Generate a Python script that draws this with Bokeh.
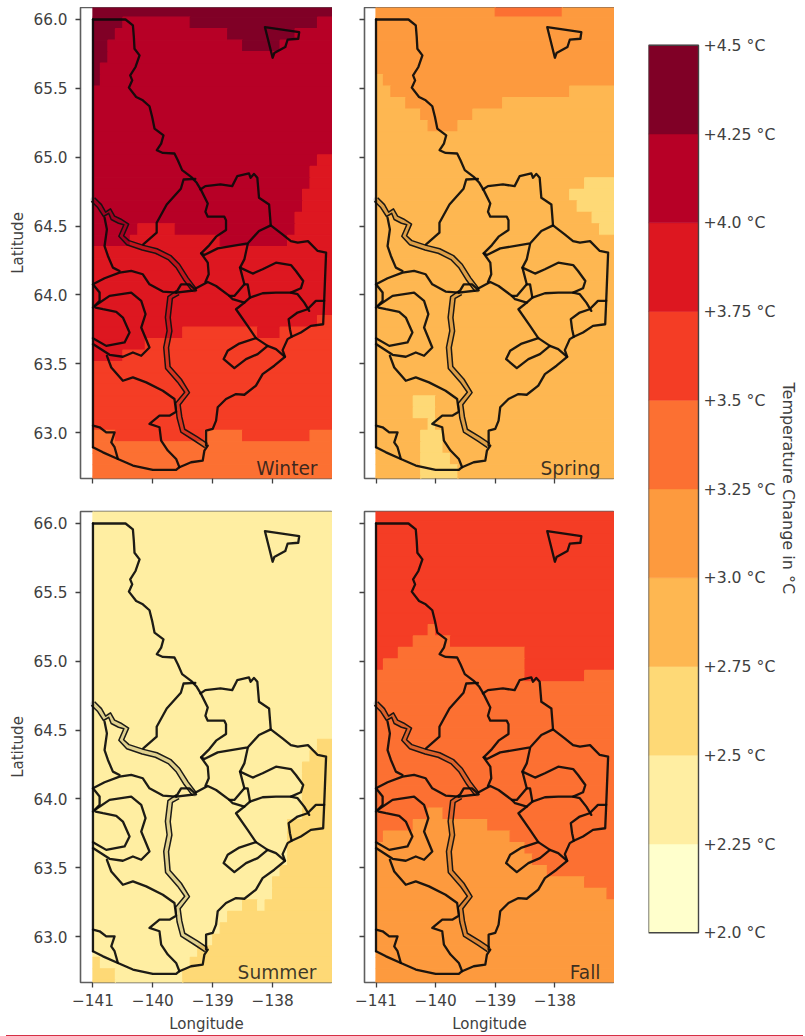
import math
from bokeh.core.properties import value
from bokeh.embed import file_html
from bokeh.layouts import column, row
from bokeh.models import ColumnDataSource, Div, FixedTicker, Label, LinearColorMapper, Range1d
from bokeh.plotting import figure
from bokeh.resources import INLINE

# ---- colour classes -------------------------------------------------------
BIN_EDGES = [2.0, 2.25, 2.5, 2.75, 3.0, 3.25, 3.5, 3.75, 4.0, 4.25, 4.5]
BIN_TEMPS = [2.125, 2.375, 2.625, 2.875, 3.125, 3.375, 3.625, 3.875, 4.125, 4.375]
PALETTE = ["#ffffcc", "#ffeea2", "#fed976", "#feb751", "#fd9a3e",
           "#fc7032", "#f43d25", "#dd1720", "#b70026", "#800026"]
BAR_TICKS = [2.0, 2.25, 2.5, 2.75, 3.0, 3.25, 3.5, 3.75, 4.0, 4.25, 4.5]
BAR_LABELS = ["+2.0 °C", "+2.25 °C", "+2.5 °C", "+2.75 °C", "+3.0 °C", "+3.25 °C",
              "+3.5 °C", "+3.75 °C", "+4.0 °C", "+4.25 °C", "+4.5 °C"]
BAR_TITLE = "Temperature Change in °C"
LON_TICKS = [-141, -140, -139, -138]
LON_LABELS = ["−141", "−140", "−139", "−138"]
LAT_TICKS = [63.0, 63.5, 64.0, 64.5, 65.0, 65.5, 66.0]
LAT_LABELS = ["63.0", "63.5", "64.0", "64.5", "65.0", "65.5", "66.0"]

# ---- gridded temperature change, north to south: each row is (class, cells) runs
GRID_WEST = -141.0
GRID_NORTH = 66.1
CELL_LON = 0.125
CELL_LAT = 1 / 12

WINTER = [
    [(9, 32)],
    [(9, 4), (8, 9), (9, 17), (8, 2)],
    [(9, 3), (8, 15), (9, 9), (8, 5)],
    [(9, 2), (8, 18), (9, 5), (8, 7)],
    [(9, 2), (8, 30)],
    [(9, 1), (8, 31)],
    [(9, 1), (8, 31)],
    [(8, 32)], [(8, 32)], [(8, 32)], [(8, 32)], [(8, 32)], [(8, 32)],
    [(8, 30), (7, 2)],
    [(8, 29), (7, 3)],
    [(8, 29), (7, 3)],
    [(8, 28), (7, 4)],
    [(8, 28), (7, 4)],
    [(8, 27), (7, 5)],
    [(8, 6), (7, 5), (8, 16), (7, 5)],
    [(8, 5), (7, 12), (8, 9), (7, 6)],
    [(7, 32)], [(7, 32)], [(7, 32)], [(7, 32)], [(7, 32)], [(7, 32)],
    [(7, 30), (6, 2)],
    [(7, 12), (6, 10), (7, 3), (6, 7)],
    [(7, 7), (6, 25)],
    [(7, 4), (6, 28)],
    [(6, 32)], [(6, 32)], [(6, 32)], [(6, 32)], [(6, 32)], [(6, 32)],
    [(5, 3), (6, 12), (5, 5), (6, 9), (5, 3)],
    [(5, 32)], [(5, 32)], [(5, 32)], [(5, 32)],
]

SPRING = [
    [(4, 16), (5, 9), (4, 7)],
    [(4, 32)], [(4, 32)], [(4, 32)], [(4, 32)], [(4, 32)],
    [(3, 1), (4, 31)],
    [(3, 2), (4, 24), (3, 6)],
    [(3, 4), (4, 13), (3, 15)],
    [(3, 6), (4, 7), (3, 19)],
    [(3, 7), (4, 4), (3, 21)],
    [(3, 32)], [(3, 32)], [(3, 32)], [(3, 32)],
    [(3, 28), (2, 4)],
    [(3, 26), (2, 6)],
    [(3, 27), (2, 5)],
    [(3, 29), (2, 3)],
    [(3, 30), (2, 2)],
    [(3, 32)], [(3, 32)], [(3, 32)], [(3, 32)], [(3, 32)], [(3, 32)], [(3, 32)],
    [(3, 32)], [(3, 32)], [(3, 32)], [(3, 32)], [(3, 32)], [(3, 32)], [(3, 32)],
    [(3, 5), (2, 3), (3, 24)],
    [(3, 5), (2, 3), (3, 24)],
    [(3, 7), (2, 1), (3, 24)],
    [(3, 6), (2, 3), (3, 23)],
    [(3, 6), (2, 3), (3, 23)],
    [(3, 6), (2, 4), (3, 22)],
    [(3, 6), (2, 5), (3, 21)],
    [(3, 6), (2, 5), (3, 21)],
]

SUMMER = [
    [(1, 32)], [(1, 32)], [(1, 32)], [(1, 32)], [(1, 32)], [(1, 32)], [(1, 32)],
    [(1, 32)], [(1, 32)], [(1, 32)], [(1, 32)], [(1, 32)], [(1, 32)], [(1, 32)],
    [(1, 32)], [(1, 32)], [(1, 32)], [(1, 32)], [(1, 32)], [(1, 32)],
    [(1, 30), (2, 2)],
    [(1, 29), (2, 3)],
    [(1, 28), (2, 4)],
    [(1, 28), (2, 4)],
    [(1, 28), (2, 4)],
    [(1, 28), (2, 4)],
    [(1, 28), (2, 4)],
    [(1, 26), (2, 6)],
    [(1, 26), (2, 6)],
    [(1, 26), (2, 6)],
    [(1, 26), (2, 6)],
    [(1, 25), (2, 7)],
    [(1, 24), (2, 8)],
    [(1, 24), (2, 8)],
    [(1, 20), (2, 2), (1, 1), (2, 9)],
    [(1, 18), (2, 14)],
    [(1, 17), (2, 15)],
    [(1, 16), (2, 16)],
    [(1, 14), (2, 18)],
    [(2, 1), (1, 12), (2, 19)],
    [(2, 3), (1, 9), (2, 20)],
    [(2, 3), (1, 9), (2, 20)],
]

FALL = [
    [(6, 32)], [(6, 32)], [(6, 32)], [(6, 32)], [(6, 32)],
    [(6, 32)], [(6, 32)], [(6, 32)], [(6, 32)], [(6, 32)],
    [(6, 7), (5, 1), (6, 24)],
    [(6, 5), (5, 5), (6, 22)],
    [(6, 3), (5, 17), (6, 12)],
    [(6, 1), (5, 19), (6, 12)],
    [(5, 20), (6, 8), (5, 4)],
    [(5, 32)], [(5, 32)], [(5, 32)], [(5, 32)], [(5, 32)], [(5, 32)],
    [(5, 32)], [(5, 32)], [(5, 32)], [(5, 32)], [(5, 32)],
    [(5, 7), (4, 2), (5, 23)],
    [(5, 5), (4, 10), (5, 17)],
    [(5, 1), (4, 17), (5, 14)],
    [(4, 20), (5, 12)],
    [(4, 21), (5, 11)],
    [(4, 23), (5, 9)],
    [(4, 28), (5, 4)],
    [(4, 31), (5, 1)],
    [(4, 32)], [(4, 32)], [(4, 32)], [(4, 32)],
    [(4, 32)], [(4, 32)], [(4, 32)], [(4, 32)],
]

# ---- region boundaries, longitude / latitude ---------------------------------
WEST_BORDER = [(-141.0, 66.0), (-141.0, 62.894)]
NORTH_LINE = [(-141.0, 66.0), (-140.456, 66.0), (-140.333, 65.957), (-140.317, 65.872), (-140.306, 65.787),
              (-140.222, 65.739), (-140.289, 65.655), (-140.378, 65.594), (-140.344, 65.558), (-140.4, 65.505),
              (-140.278, 65.437), (-140.167, 65.413), (-140.056, 65.37), (-140.011, 65.292), (-139.972, 65.208),
              (-139.822, 65.159), (-139.861, 65.099), (-139.933, 65.051), (-139.833, 65.031), (-139.639, 65.027),
              (-139.583, 64.978), (-139.511, 64.906), (-139.361, 64.857), (-139.267, 64.814), (-139.194, 64.761),
              (-139.083, 64.664), (-139.122, 64.604), (-139.083, 64.568), (-138.806, 64.568), (-138.778, 64.543),
              (-138.778, 64.471), (-138.944, 64.423), (-139.056, 64.362), (-139.194, 64.302),
              (-139.083, 64.234), (-139.067, 64.15), (-139.122, 64.094)]
ISLAND = [(-138.128, 65.944), (-137.556, 65.908), (-137.572, 65.86), (-137.75, 65.853), (-137.789, 65.8),
          (-137.972, 65.756), (-138.0, 65.722), (-138.128, 65.944)]
V_EAST = [(-139.194, 64.302), (-139.139, 64.29), (-138.917, 64.338), (-138.417, 64.374), (-138.227, 64.464),
          (-138.031, 64.505), (-137.835, 64.44), (-137.695, 64.391), (-137.58, 64.379), (-137.41, 64.391),
          (-137.247, 64.319), (-137.107, 64.307), (-137.139, 63.957), (-137.156, 63.787), (-137.361, 63.775),
          (-137.528, 63.727), (-137.683, 63.696)]
NORTH_LOBE = [(-138.031, 64.505), (-138.059, 64.657), (-138.227, 64.705), (-138.255, 64.85), (-138.311, 64.879),
              (-138.367, 64.85), (-138.395, 64.882), (-138.591, 64.862), (-138.675, 64.79), (-138.871, 64.802),
              (-139.011, 64.795), (-139.123, 64.79), (-139.207, 64.766)]
WEST_BRANCH = [(-139.291, 64.843), (-139.487, 64.838), (-139.532, 64.771), (-139.768, 64.657), (-139.936, 64.524),
               (-139.936, 64.452), (-140.16, 64.367)]
BASIN_NORTH = [(-139.278, 64.048), (-139.083, 64.094), (-138.944, 64.065), (-138.722, 63.993), (-138.667, 63.969),
               (-138.472, 63.944), (-138.611, 63.896), (-138.417, 63.775), (-138.278, 63.686), (-138.083, 63.63),
               (-137.944, 63.606), (-137.794, 63.551)]
SMALL_BLOCK = [(-139.611, 64.017), (-139.528, 64.077), (-139.389, 64.077), (-139.278, 64.034), (-139.611, 64.017)]
BASIN_LOBE = [(-138.278, 63.686), (-138.556, 63.647), (-138.75, 63.594), (-138.817, 63.534), (-138.639, 63.469),
              (-138.444, 63.534), (-138.25, 63.57), (-138.083, 63.63)]
SOUTH_EAST = [(-139.111, 62.906), (-139.111, 63.014), (-139.0, 63.027), (-138.944, 63.087), (-138.917, 63.184),
              (-138.778, 63.244), (-138.611, 63.28), (-138.472, 63.275), (-138.278, 63.341), (-138.167, 63.425),
              (-137.972, 63.486), (-137.794, 63.551), (-137.833, 63.599), (-137.75, 63.679), (-137.683, 63.696),
              (-137.711, 63.751), (-137.733, 63.824), (-137.583, 63.872), (-137.417, 63.896), (-137.278, 63.957),
              (-137.139, 63.957)]
EAST_SPUR = [(-137.694, 64.017), (-137.583, 64.005), (-137.472, 63.944), (-137.389, 63.884)]
MID_LINE = [(-138.417, 64.367), (-138.472, 64.258), (-138.544, 64.198), (-138.472, 64.077), (-138.639, 63.993),
            (-138.722, 63.993)]
EAST_LOBE = [(-138.544, 64.198), (-138.333, 64.155), (-138.167, 64.186), (-137.944, 64.234), (-137.694, 64.217),
             (-137.611, 64.174), (-137.489, 64.101), (-137.528, 64.048), (-137.694, 64.017), (-137.944, 64.017),
             (-138.167, 64.012), (-138.378, 63.981), (-138.417, 64.077), (-138.472, 64.077)]
EAST_LOBE_TAIL = [(-138.378, 63.981), (-138.472, 63.944)]
WEST_DOWN = [(-140.806, 64.56), (-140.767, 64.476), (-140.806, 64.355), (-140.75, 64.283), (-140.667, 64.198),
             (-140.556, 64.174)]
WEST_LOBE_1 = [(-141.0, 64.077), (-140.806, 64.121), (-140.556, 64.162), (-140.361, 64.174), (-140.167, 64.15),
               (-140.056, 64.077), (-139.833, 64.024), (-139.611, 64.017)]
WEST_STUB = [(-141.0, 64.077), (-140.889, 64.017), (-140.889, 63.957), (-140.972, 63.92), (-141.0, 63.908)]
WEST_LOBE_2 = [(-140.972, 63.92), (-140.722, 63.993), (-140.361, 64.017), (-140.194, 63.957), (-140.122, 63.86),
               (-140.194, 63.763), (-140.056, 63.618), (-140.194, 63.558), (-140.333, 63.582), (-140.5, 63.551),
               (-140.722, 63.565), (-141.0, 63.643)]
WEST_LOBE_3 = [(-140.956, 63.908), (-140.833, 63.896), (-140.611, 63.877), (-140.5, 63.836), (-140.389, 63.727),
               (-140.472, 63.655), (-140.778, 63.63), (-141.0, 63.686)]
SOUTH_LINE = [(-140.767, 63.558), (-140.694, 63.473), (-140.5, 63.377), (-140.333, 63.401), (-140.111, 63.365),
              (-139.833, 63.304), (-139.639, 63.244), (-139.611, 63.152), (-139.722, 63.123), (-139.889, 63.123),
              (-140.056, 63.063), (-139.889, 63.039), (-139.861, 62.942), (-139.75, 62.87), (-139.611, 62.809),
              (-139.556, 62.749)]
SOUTH_COAST = [(-141.0, 62.894), (-140.833, 62.857), (-140.583, 62.809), (-140.333, 62.761), (-140.0, 62.729),
               (-139.611, 62.729), (-139.556, 62.749), (-139.361, 62.785), (-139.167, 62.797), (-139.139, 62.87),
               (-139.083, 62.906)]
SW_CORNER = [(-141.0, 63.051), (-140.889, 63.039), (-140.778, 63.002), (-140.639, 63.002), (-140.694, 62.93),
             (-140.639, 62.894), (-140.583, 62.809)]
BOUNDARIES = [WEST_BORDER, NORTH_LINE, ISLAND, V_EAST, NORTH_LOBE, WEST_BRANCH, BASIN_NORTH, SMALL_BLOCK,
              BASIN_LOBE, SOUTH_EAST, EAST_SPUR, MID_LINE, EAST_LOBE, EAST_LOBE_TAIL, WEST_DOWN, WEST_LOBE_1,
              WEST_STUB, WEST_LOBE_2, WEST_LOBE_3, SOUTH_LINE, SOUTH_COAST, SW_CORNER]

# two channels drawn with a pair of banks
RIVER_NORTH = [(-141.0, 64.693), (-140.889, 64.645), (-140.806, 64.585), (-140.722, 64.609), (-140.667, 64.56),
               (-140.556, 64.536), (-140.444, 64.512), (-140.528, 64.428), (-140.417, 64.379), (-140.167, 64.343),
               (-139.944, 64.319), (-139.722, 64.271), (-139.583, 64.21), (-139.444, 64.114), (-139.306, 64.034)]
RIVER_SOUTH = [(-139.583, 64.017), (-139.711, 63.981), (-139.75, 63.836), (-139.722, 63.739), (-139.778, 63.618),
               (-139.75, 63.473), (-139.556, 63.377), (-139.428, 63.292), (-139.583, 63.208), (-139.556, 63.111),
               (-139.5, 63.014), (-139.278, 62.954), (-139.111, 62.906)]
RIVERS = [RIVER_NORTH, RIVER_SOUTH]

PX_LON, PX_LAT = 59.9, 138.0
BANK_PX = 2.4


def bank(points, side):
    out = []
    for i, (lon, lat) in enumerate(points):
        a = points[max(i - 1, 0)]
        b = points[min(i + 1, len(points) - 1)]
        dx, dy = (b[0] - a[0]) * PX_LON, (b[1] - a[1]) * PX_LAT
        n = math.hypot(dx, dy) or 1.0
        out.append((lon - side * BANK_PX * dy / n / PX_LON, lat + side * BANK_PX * dx / n / PX_LAT))
    return out


mapper = LinearColorMapper(palette=PALETTE, low=BIN_EDGES[0], high=BIN_EDGES[-1])
FONT = "DejaVu Sans"
GREY = "#404040"


def cell_source(rows):
    left, right, top, bottom, temp = [], [], [], [], []
    for r, runs in enumerate(rows):
        col = 0
        for level, n in runs:
            left.append(GRID_WEST + col * CELL_LON)
            right.append(GRID_WEST + (col + n) * CELL_LON)
            top.append(GRID_NORTH - r * CELL_LAT)
            bottom.append(GRID_NORTH - (r + 1) * CELL_LAT)
            temp.append(BIN_TEMPS[level])
            col += n
    return ColumnDataSource(dict(left=left, right=right, top=top, bottom=bottom, temp=temp))


def xs_ys(lines):
    return [[p[0] for p in l] for l in lines], [[p[1] for p in l] for l in lines]


def style_axis(ax, show_labels, text, ticks, labels, label_standoff, title_standoff):
    ax.axis_line_color = None
    ax.ticker = FixedTicker(ticks=ticks)
    ax.major_tick_line_color = GREY
    ax.major_tick_line_width = 1.3
    ax.major_tick_in = 0
    ax.major_tick_out = 5
    ax.minor_tick_line_color = None
    ax.major_label_text_font = FONT
    ax.major_label_text_color = GREY
    ax.major_label_text_font_size = "15.3px"
    ax.major_label_standoff = label_standoff
    ax.axis_label_text_font = FONT
    ax.axis_label_text_font_style = "normal"
    ax.axis_label_text_color = GREY
    ax.axis_label_text_font_size = "15px"
    ax.axis_label_standoff = title_standoff
    if show_labels:
        ax.major_label_overrides = dict(zip(ticks, labels))
        ax.axis_label = text
    else:
        ax.major_label_overrides = {t: "" for t in ticks}
        ax.major_label_standoff = 0


def panel(rows, name, frame_w, border_left, border_top, border_bottom, lon_left, show_x, show_y, label_x):
    p = figure(frame_width=frame_w, frame_height=471, min_border_left=border_left,
               min_border_right=0, min_border_top=border_top, min_border_bottom=border_bottom,
               x_range=Range1d(lon_left, -137.0), y_range=Range1d(62.667, 66.087),
               output_backend="svg", toolbar_location=None, tools="")
    p.grid.visible = False
    p.outline_line_color = "#5e5e5e"
    p.outline_line_width = 1.6
    p.background_fill_color = "white"
    p.border_fill_color = None
    col = {"field": "temp", "transform": mapper}
    p.quad(left="left", right="right", top="top", bottom="bottom", source=cell_source(rows),
           fill_color=col, line_color=col, line_width=1.2)
    rx, ry = xs_ys(RIVERS)
    p.multi_line(rx, ry, line_color="black", line_alpha=0.12, line_width=5, line_join="round", line_cap="round")
    bx, by = xs_ys([bank(r, 1) for r in RIVERS] + [bank(r, -1) for r in RIVERS])
    p.multi_line(bx, by, line_color="#111111", line_width=1.5, line_join="round", line_alpha=0.95)
    lx, ly = xs_ys(BOUNDARIES)
    p.multi_line(lx, ly, line_color="#0a0a0a", line_width=2.3, line_join="round", line_cap="round", line_alpha=0.92)

    style_axis(p.xaxis[0], show_x, "Longitude", LON_TICKS, LON_LABELS, 6, 6)
    style_axis(p.yaxis[0], show_y, "Latitude", LAT_TICKS, LAT_LABELS, 8, 3)
    p.add_layout(Label(x=label_x, y=10, x_units="screen", y_units="screen", text=name, text_align="right",
                       text_baseline="alphabetic", text_font=FONT, text_font_size="18.6px",
                       text_color="#1a1a1a", text_alpha=0.85))
    return p


win = panel(WINTER, "Winter", 252, 73, 0, 20, -141.208, False, True, 237)
spr = panel(SPRING, "Spring", 250, 32, 0, 20, -141.193, False, False, 236)
sum_ = panel(SUMMER, "Summer", 252, 73, 13, 50, -141.208, True, True, 236)
fal = panel(FALL, "Fall", 250, 32, 13, 50, -141.193, True, False, 236)

# ---- colour bar: bar spans x 0..1 of a frame that also holds its labels ------------
bar = figure(frame_width=151, frame_height=923, min_border_left=34, min_border_right=0,
             min_border_top=20, min_border_bottom=66, x_range=Range1d(0, 3.02),
             y_range=Range1d(1.95, 4.55), output_backend="svg", toolbar_location=None, tools="")
bar.grid.visible = False
bar.axis.visible = False
bar.outline_line_color = None
bar.background_fill_color = None
bar.border_fill_color = None
bar.quad(left=0, right=1, bottom=BIN_EDGES[:-1], top=BIN_EDGES[1:], fill_color=PALETTE, line_color=PALETTE, line_width=0.5)
bar.quad(left=0, right=1, bottom=BIN_EDGES[0], top=BIN_EDGES[-1], fill_color=None, line_color="#444444", line_width=1.4)
bar.text(x=[1.1] * len(BAR_TICKS), y=BAR_TICKS, text=BAR_LABELS, text_align="left", text_baseline="middle",
         text_font=value(FONT), text_font_size="15.7px", text_color=GREY)
bar.text(x=[2.8], y=[(BIN_EDGES[0] + BIN_EDGES[-1]) / 2 + 0.002], text=[BAR_TITLE], angle=-math.pi / 2,
         text_align="center", text_baseline="middle", text_font=value(FONT), text_font_size="16px", text_color=GREY)

# ---- thin rule at the foot of the page --------------------------------------------
rule = Div(text="", width=797, height=2, margin=0, styles={"background-color": "#d62f45"})

root = column(row(column(row(win, spr, spacing=0), row(sum_, fal, spacing=0), spacing=0), bar, spacing=0),
              rule, spacing=0, margin=(7, 0, -24, 6))
open("out.html", "w").write(file_html(root, INLINE))
